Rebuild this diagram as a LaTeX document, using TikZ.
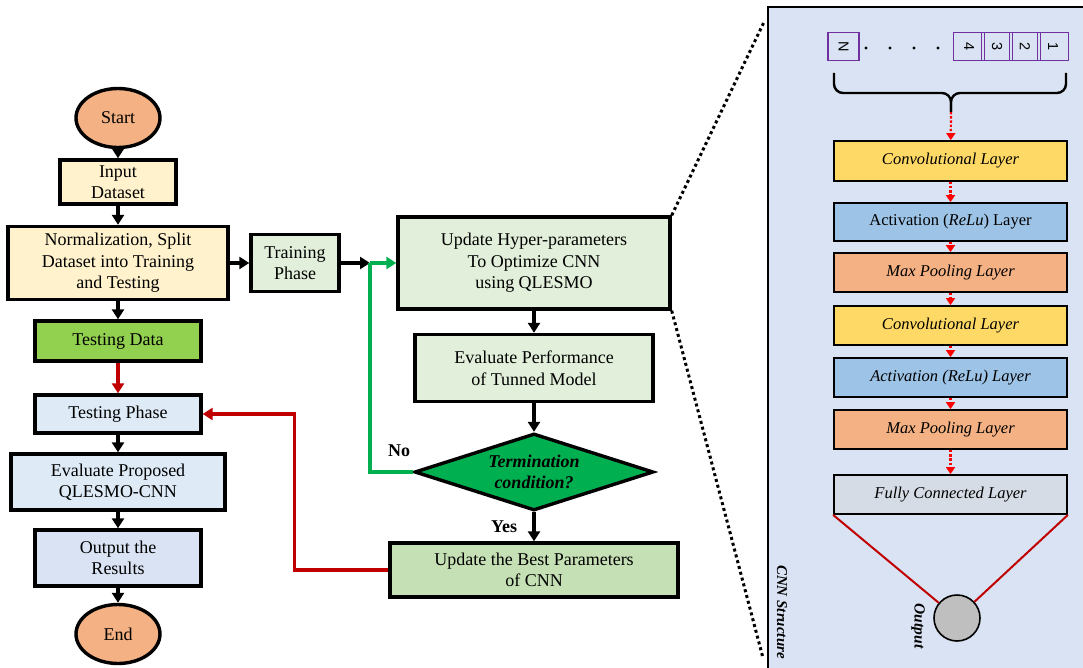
\documentclass[tikz,border=0pt]{standalone}
\usepackage{fontspec}
\setmainfont{Liberation Serif}
\newfontfamily\cellfont{Liberation Sans}
\usetikzlibrary{positioning}
\usetikzlibrary{calc}
\usetikzlibrary{arrows.meta}
\usetikzlibrary{shapes.geometric}

\definecolor{termfill}{HTML}{F4B183}
\definecolor{datafill}{HTML}{FFF2CC}
\definecolor{testfill}{HTML}{92D050}
\definecolor{phasefill}{HTML}{DEEBF7}
\definecolor{resultfill}{HTML}{DAE3F3}
\definecolor{trainfill}{HTML}{E2EFDA}
\definecolor{bestfill}{HTML}{C5E0B4}
\definecolor{condfill}{HTML}{00B050}
\definecolor{loopgreen}{HTML}{00B050}
\definecolor{backred}{HTML}{C00000}
\definecolor{panelfill}{HTML}{DAE3F3}
\definecolor{convfill}{HTML}{FFD966}
\definecolor{actfill}{HTML}{9DC3E6}
\definecolor{poolfill}{HTML}{F4B183}
\definecolor{fcfill}{HTML}{D6DCE5}
\definecolor{outfill}{HTML}{BFBFBF}
\definecolor{cellpurple}{HTML}{7030A0}

\tikzset{
    flow/.style={draw, line width=3.4pt, align=center, inner sep=0pt,
                 font=\fontsize{18}{21.5}\selectfont},
    term/.style={flow, ellipse, fill=termfill, minimum width=84pt, minimum height=59pt},
    layer/.style={draw, line width=1.8pt, minimum width=233pt, minimum height=39pt,
                  inner sep=0pt, font=\fontsize{16.5}{19}\selectfont\itshape},
    cell/.style={draw=cellpurple, line width=1.8pt, minimum width=28pt, minimum height=31pt,
                 inner sep=0pt, font=\cellfont\fontsize{14.5}{16}\selectfont, rotate=-90},
    arr/.style={-{Triangle[length=10pt,width=12pt]}, line width=3.2pt},
    redarr/.style={arr, draw=backred},
    greenarr/.style={arr, draw=loopgreen},
    layerarr/.style={draw=red, line width=2.2pt, dash pattern=on 2.4pt off 1.8pt,
                     -{Triangle[length=7pt,width=9pt]}},
    zoomline/.style={line width=3pt, dash pattern=on 3pt off 3pt},
    lbl/.style={font=\fontsize{18}{21.5}\selectfont\bfseries}
}

\begin{document}
\begin{tikzpicture}[x=1pt, y=-1pt]
    \useasboundingbox (0,0) rectangle (1083,668);

    % CNN panel
    \fill[panelfill] (768,7) rectangle (1083,668);
    \draw[line width=2.6pt] (768,668) -- (768,7) -- (1083,7);

    % main flow
    \node[term] (start) at (118,118) {Start};
    \node[flow, fill=datafill, minimum width=116pt, minimum height=44pt] (input) at (118,182) {Input\\Dataset};
    \node[flow, fill=datafill, minimum width=220pt, minimum height=73pt] (norm) at (118,263) {Normalization, Split\\Dataset into Training\\and Testing};
    \node[flow, fill=testfill, minimum width=166pt, minimum height=40pt] (testdata) at (118,341) {Testing Data};
    \node[flow, fill=phasefill, minimum width=166pt, minimum height=38pt] (testphase) at (118,414) {Testing Phase};
    \node[flow, fill=phasefill, minimum width=214pt, minimum height=56pt] (evalprop) at (118,482) {Evaluate Proposed\\QLESMO-CNN};
    \node[flow, fill=resultfill, minimum width=166pt, minimum height=56pt] (results) at (118,558) {Output the\\Results};
    \node[term] (end) at (118,634) {End};

    % training loop
    \node[flow, fill=trainfill, minimum width=88pt, minimum height=57pt] (train) at (295,263) {Training\\Phase};
    \node[flow, fill=trainfill, minimum width=272pt, minimum height=92pt] (update) at (534,263) {Update Hyper-parameters\\To Optimize CNN\\using QLESMO};
    \node[flow, fill=trainfill, minimum width=238pt, minimum height=67pt] (evalperf) at (534,368) {Evaluate Performance\\of Tunned Model};
    \node[flow, diamond, fill=condfill, aspect=3, minimum width=239pt, minimum height=77pt,
          font=\fontsize{18}{21.5}\selectfont\bfseries\itshape] (cond) at (534,472) {Termination\\condition?};
    \node[flow, fill=bestfill, minimum width=288pt, minimum height=54pt] (best) at (534,570) {Update the Best Parameters\\of CNN};
    \coordinate (join) at (370,263);

    \node[lbl] (nolbl) at (399,451) {No};
    \node[lbl] (yeslbl) at (504,527) {Yes};

    \draw[arr] (start) -- (input);
    \draw[arr] (input) -- (norm);
    \draw[arr] (norm) -- (testdata);
    \draw[redarr] (testdata) -- (testphase);
    \draw[arr] (testphase) -- (evalprop);
    \draw[arr] (evalprop) -- (results);
    \draw[arr] (results) -- (end);
    \draw[arr] (norm) -- (train);
    \draw[arr] (train) -- (join);
    \draw[greenarr] (join) -- (update);
    \draw[line width=3.2pt, loopgreen] (cond.west) -| (join);
    \draw[arr] (update) -- (evalperf);
    \draw[arr] (evalperf) -- (cond);
    \draw[arr] (cond) -- (best);
    \draw[redarr] (best.west) -- ++(-94,0) |- (testphase.east);

    % zoom lines
    \coordinate (paneltop) at (764,22);
    \coordinate (panelbot) at (763,658);
    \draw[zoomline] (update.north east) -- (paneltop);
    \draw[zoomline] (update.south east) -- (panelbot);

    % input vector
    \node[cell] (cellN) at (843.5,46.5) {N};
    \node[cell] (cell4) at (969,46.5) {4};
    \node[cell] (cell3) at (997,46.5) {3};
    \node[cell] (cell2) at (1025,46.5) {2};
    \node[cell] (cell1) at (1053,46.5) {1};
    \foreach \dx in {866,890,914,938}
        \fill (\dx,48) circle (1.6pt);
    \coordinate (bracetip) at (951,112);
    \draw[line width=2.4pt, rounded corners=9pt] (834,73) -- (834,93) -- (951,93) -- (bracetip);
    \draw[line width=2.4pt, rounded corners=9pt] (1066,73) -- (1066,93) -- (951,93) -- (bracetip);

    % CNN layers
    \node[layer, fill=convfill, minimum height=40pt] (conv1) at (950.5,161) {Convolutional Layer};
    \node[layer, fill=actfill, minimum height=38pt, font=\fontsize{16.5}{19}\selectfont] (act1) at (950.5,222) {Activation (\textit{ReLu}) Layer};
    \node[layer, fill=poolfill] (pool1) at (950.5,272.5) {Max Pooling Layer};
    \node[layer, fill=convfill] (conv2) at (950.5,325.5) {Convolutional Layer};
    \node[layer, fill=actfill] (act2) at (950.5,377.5) {Activation (ReLu) Layer};
    \node[layer, fill=poolfill] (pool2) at (950.5,429.5) {Max Pooling Layer};
    \node[layer, fill=fcfill] (fc) at (950.5,494.5) {Fully Connected Layer};
    \node[circle, draw, line width=1.6pt, fill=outfill, minimum size=46pt] (outnode) at (957,618) {};

    \draw[layerarr] (bracetip) -- (conv1);
    \draw[layerarr] (conv1) -- (act1);
    \draw[layerarr] (act1) -- (pool1);
    \draw[layerarr] (pool1) -- (conv2);
    \draw[layerarr] (conv2) -- (act2);
    \draw[layerarr] (act2) -- (pool2);
    \draw[layerarr] (pool2) -- (fc);
    \draw[backred, line width=2pt] (fc.south west) -- (outnode);
    \draw[backred, line width=2pt] (fc.south east) -- (outnode);

    \node[rotate=-90, font=\fontsize{15.5}{18}\selectfont\bfseries\itshape] (outlbl) at (918,626) {Output};
    \node[rotate=-90, font=\fontsize{15}{17}\selectfont\bfseries\itshape] (cnnlbl) at (782,612) {CNN Structure};
\end{tikzpicture}
\end{document}
